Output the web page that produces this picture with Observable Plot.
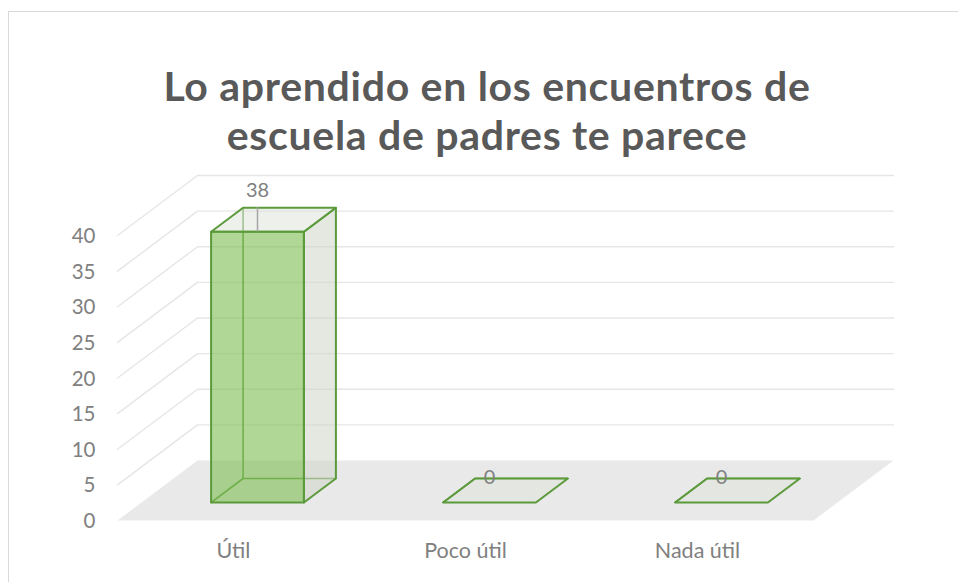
<!DOCTYPE html>
<html><head><meta charset="utf-8">
<script src="https://cdn.jsdelivr.net/npm/d3@7"></script>
<script src="https://cdn.jsdelivr.net/npm/@observablehq/plot@0.6"></script>
<style>
html,body{margin:0;padding:0;background:#fff;overflow:hidden;}
#wrap{position:relative;width:958px;height:582px;overflow:hidden;}
#frame{position:absolute;left:8px;top:11px;width:980px;height:600px;border:1px solid #d9d9d9;box-sizing:border-box;}
#title{position:absolute;left:0;top:61px;width:974px;text-align:center;font-family:Lato,"Open Sans",sans-serif;font-weight:700;font-size:41px;line-height:49px;color:#595959;letter-spacing:0.7px;}
#chart{position:absolute;left:0;top:0;}
</style></head>
<body><div id="wrap"><div id="frame"></div><div id="title">Lo aprendido en los encuentros de<br>escuela de padres te parece</div><div id="chart"></div></div>
<script>
const categories = ["Útil", "Poco útil", "Nada útil"];
const values = [38, 0, 0];
const yTicks = [0, 5, 10, 15, 20, 25, 30, 35, 40];

// oblique projection of depth (t in 0..1) expressed in data units
const DX = 80 / 232;   // category units per full depth
const DY = 60 / 7.125; // value units per full depth
const T0 = 0.3, T1 = 0.7, HW = 0.2;
const P = (x, v, t) => ({x: x + t * DX, y: v + t * DY});

const n = categories.length;
const floorPts = [P(0,0,0), P(n,0,0), P(n,0,1), P(0,0,1)];
const gridPts = [];
yTicks.filter(v => v > 0).forEach(v => {
  [P(0,v,0), P(0,v,1), P(n,v,1)].forEach(p => gridPts.push({...p, id: v}));
});

const hiddenPts = [], sidePts = [], topPts = [], frontPts = [];
values.forEach((v, i) => {
  const c = i + 0.5, L = c - HW, R = c + HW;
  const add = (arr, id, pts) => pts.forEach(p => arr.push({...p, id}));
  add(hiddenPts, i + "a", [P(L,0,T0), P(L,0,T1), P(R,0,T1)]);
  add(hiddenPts, i + "b", [P(L,0,T1), P(L,v,T1)]);
  if (v > 0) add(sidePts, i, [P(R,0,T0), P(R,0,T1), P(R,v,T1), P(R,v,T0)]);
  add(topPts, i, [P(L,v,T0), P(R,v,T0), P(R,v,T1), P(L,v,T1)]);
  if (v > 0) add(frontPts, i, [P(L,0,T0), P(R,0,T0), P(R,v,T0), P(L,v,T0)]);
});
const labelPts = values.map((v, i) => ({
  x: i + 0.5 + T0 * DX, y: v + T1 * DY, yf: v + T0 * DY, v
}));
const catPts = categories.map((c, i) => ({x: i + 0.5, y: 0, c}));
const tickPts = yTicks.map(v => ({x: 0, y: v}));

const green = "#5b9a3b";
const font = "Lato, 'Open Sans', sans-serif";
const chart = Plot.plot({
  width: 958, height: 582,
  x: {domain: [0, n], range: [117, 813], axis: null},
  y: {domain: [0, 40], range: [520, 235], axis: null},
  style: {fontFamily: font, background: "transparent", overflow: "visible"},
  marks: [
    Plot.line(floorPts, {x: "x", y: "y", curve: "linear-closed", fill: "#e9e9e9", stroke: "none"}),
    Plot.line(gridPts, {x: "x", y: "y", z: "id", stroke: "#e6e6e6", strokeWidth: 1.4}),
    Plot.line(hiddenPts, {x: "x", y: "y", z: "id", stroke: green, strokeWidth: 1.6}),
    Plot.line(sidePts, {x: "x", y: "y", z: "id", curve: "linear-closed", fill: "#cfd5c8", fillOpacity: 0.55, stroke: green, strokeWidth: 2, strokeLinejoin: "round"}),
    Plot.line(topPts, {x: "x", y: "y", z: "id", curve: "linear-closed", fill: "#dfe3da", fillOpacity: 0.55, stroke: green, strokeWidth: 2, strokeLinejoin: "round"}),
    Plot.line(frontPts, {x: "x", y: "y", z: "id", curve: "linear-closed", fill: "#7fbf55", fillOpacity: 0.62, stroke: green, strokeWidth: 2, strokeLinejoin: "round"}),
    Plot.ruleX(labelPts.filter(d => d.v > 0), {x: "x", y1: "yf", y2: "y", stroke: "#a6a6a6", strokeWidth: 1.5}),
    Plot.text(labelPts.filter(d => d.v > 0), {x: "x", y: "y", text: d => String(d.v), dy: -17, fontSize: 20, fill: "#808080"}),
    Plot.text(labelPts.filter(d => d.v === 0), {x: "x", y: "y", text: d => String(d.v), dy: -1, fontSize: 20, fill: "#808080"}),
    Plot.text(tickPts, {x: "x", y: "y", text: d => String(d.y), dx: -22, dy: 1, textAnchor: "end", fontSize: 20.5, fill: "#808080"}),
    Plot.text(catPts, {x: "x", y: "y", text: "c", dy: 31, fontSize: 21.5, fill: "#808080"})
  ]
});
document.getElementById("chart").appendChild(chart);
</script></body></html>
